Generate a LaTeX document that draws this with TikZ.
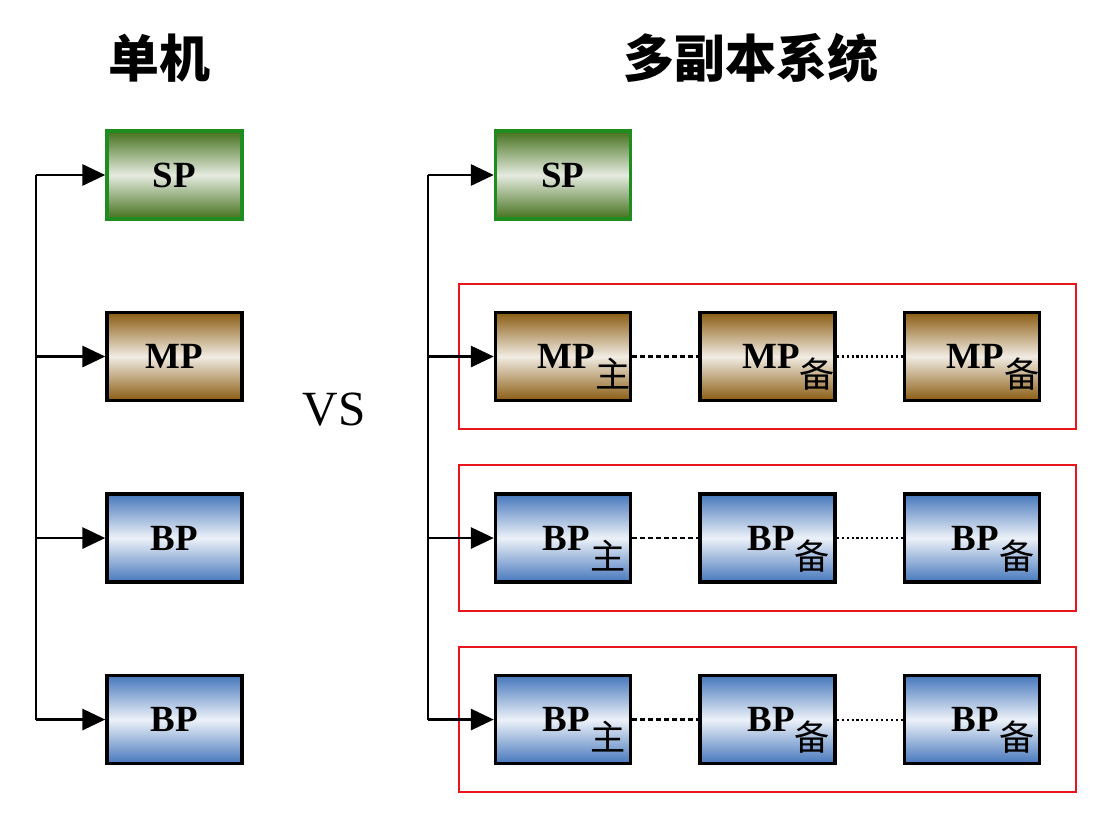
\documentclass[tikz,border=0pt]{standalone}
\usepackage{fontspec}
\setmainfont{Liberation Serif}
\newfontfamily\cjk{Noto Sans CJK SC}
\usepackage{xcolor}
\definecolor{cGreen}{HTML}{44701C}
\definecolor{cGreenEdge}{HTML}{1E8C1E}
\definecolor{cBrown}{HTML}{8A5C12}
\definecolor{cBlue}{HTML}{4677BC}
\definecolor{cFrame}{HTML}{E8161C}
\usepackage{tikz}
\usetikzlibrary{positioning,arrows.meta,fit,calc}
\tikzset{
  node-box/.style={draw=black,line width=2pt,minimum width=2.7cm,minimum height=1.76cm,
    inner sep=0pt,align=center,font=\fontsize{21}{24}\selectfont\bfseries},
  node-sp/.style={draw=cGreenEdge,top color=cGreen,bottom color=cGreen,middle color=white!86!cGreen},
  node-mp/.style={top color=cBrown,bottom color=cBrown,middle color=white!88!cBrown},
  node-bp/.style={top color=cBlue,bottom color=cBlue,middle color=white!90!cBlue},
  group-frame/.style={draw=cFrame,line width=1pt,inner xsep=0.7cm,inner ysep=0.54cm},
  title/.style={font=\fontsize{29}{32}\selectfont\cjk\bfseries},
  arrow/.style={-{Triangle[length=13pt,width=12pt]},line width=1.4pt},
  bus/.style={line width=1.4pt},
  link-main/.style={line width=1.4pt,dash pattern=on 2.8pt off 1.7pt},
  link-copy/.style={line width=1.2pt,dash pattern=on 1.2pt off 1.6pt},
}
% 带下标的副本名：主 / 备
\newcommand{\repl}[2]{\hspace*{24pt}#1\raisebox{-11pt}[0pt][0pt]{\fontsize{20}{20}\selectfont\cjk\mdseries #2}}

\begin{document}
\begin{tikzpicture}[node distance=1.8cm and 1.32cm]
  \useasboundingbox (0,0) rectangle (22.14,-16.48);
  % 单机
  \node[title] (titleL) at (3.18,-1.16) {单机};
  \node[node-box,node-sp] (spL) at (3.49,-3.5) {SP};
  \node[node-box,node-mp,below=of spL] (mpL)  {MP};
  \node[node-box,node-bp,below=of mpL] (bpL1) {BP};
  \node[node-box,node-bp,below=of bpL1] (bpL2) {BP};
  \coordinate (busLtop) at ($(spL.west)+(-1.38,0)$);
  \coordinate (busLbot) at ($(bpL2.west)+(-1.38,0)$);
  \draw[bus] (busLtop) -- (busLbot);
  \draw[arrow] (busLtop) -- (spL);
  \draw[arrow] (busLtop |- mpL.west) -- (mpL);
  \draw[arrow] (busLtop |- bpL1.west) -- (bpL1);
  \draw[arrow] (busLtop |- bpL2.west) -- (bpL2);

  \node[font=\fontsize{28}{30}\selectfont] (vs) at (6.68,-8.2) {VS};

  % 多副本系统
  \node[title] (titleR) at (15.02,-1.16) {多副本系统};
  \node[node-box,node-sp] (spR) at (11.26,-3.5) {SP};
  \node[node-box,node-mp,below=of spR] (mpA) {\repl{MP}{主}};
  \node[node-box,node-mp,right=of mpA] (mpB) {\repl{MP}{备}};
  \node[node-box,node-mp,right=of mpB] (mpC) {\repl{MP}{备}};
  \node[node-box,node-bp,below=of mpA] (bpA) {\repl{BP}{主}};
  \node[node-box,node-bp,right=of bpA] (bpB) {\repl{BP}{备}};
  \node[node-box,node-bp,right=of bpB] (bpC) {\repl{BP}{备}};
  \node[node-box,node-bp,below=of bpA] (bqA) {\repl{BP}{主}};
  \node[node-box,node-bp,right=of bqA] (bqB) {\repl{BP}{备}};
  \node[node-box,node-bp,right=of bqB] (bqC) {\repl{BP}{备}};
  \node[group-frame,fit=(mpA)(mpC)] (grpMP) {};
  \node[group-frame,fit=(bpA)(bpC)] (grpBP1) {};
  \node[group-frame,fit=(bqA)(bqC)] (grpBP2) {};
  \draw[link-main] (mpA) -- (mpB);
  \draw[link-copy] (mpB) -- (mpC);
  \draw[link-main] (bpA) -- (bpB);
  \draw[link-copy] (bpB) -- (bpC);
  \draw[link-main] (bqA) -- (bqB);
  \draw[link-copy] (bqB) -- (bqC);
  \coordinate (busRtop) at ($(spR.west)+(-1.32,0)$);
  \coordinate (busRbot) at ($(bqA.west)+(-1.32,0)$);
  \draw[bus] (busRtop) -- (busRbot);
  \draw[arrow] (busRtop) -- (spR);
  \draw[arrow] (busRtop |- mpA.west) -- (mpA);
  \draw[arrow] (busRtop |- bpA.west) -- (bpA);
  \draw[arrow] (busRtop |- bqA.west) -- (bqA);
\end{tikzpicture}
\end{document}
